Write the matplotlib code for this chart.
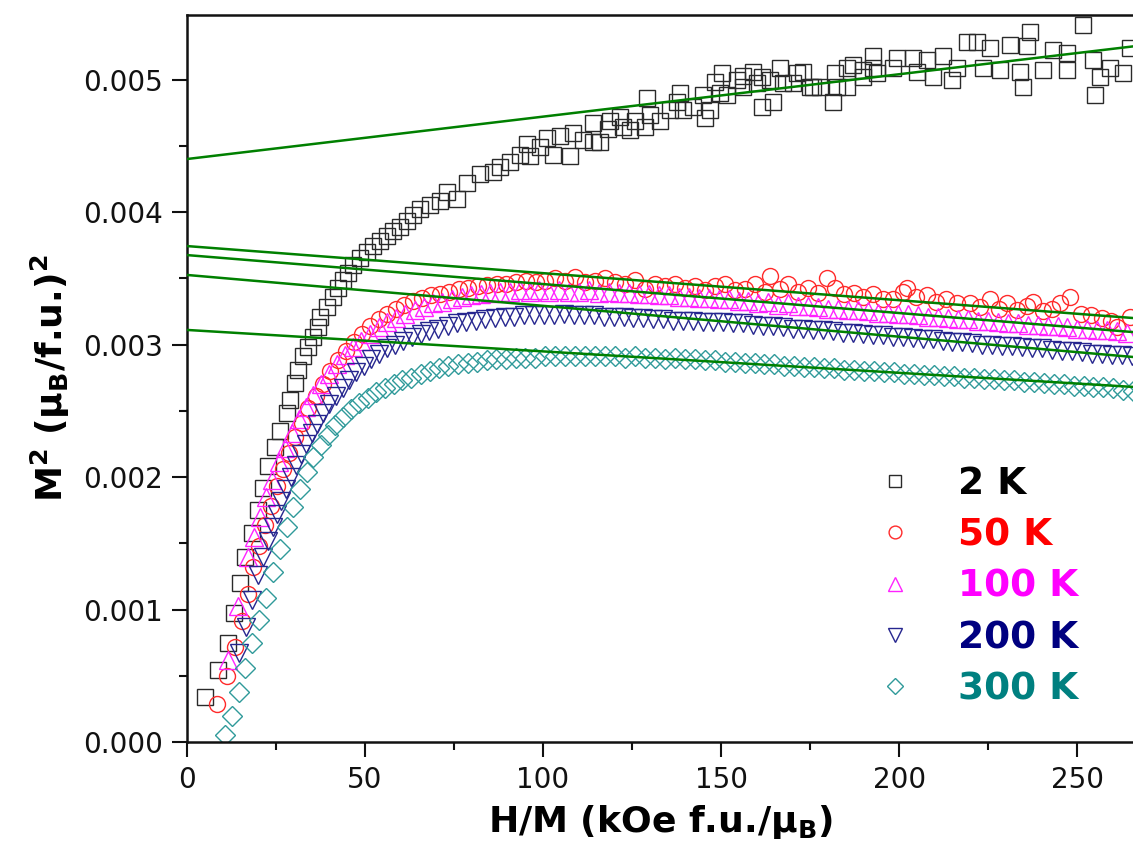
import matplotlib
matplotlib.use("Agg")
import matplotlib.pyplot as plt
from matplotlib.ticker import MultipleLocator, FormatStrFormatter

plt.rcParams['font.family'] = ['DejaVu Sans']
plt.rcParams['mathtext.fontset'] = 'dejavusans'

# ---------------- data (x: H/M in kOe f.u./muB, y: M^2 in 1e-3 (muB/f.u.)^2) ----------------
x_2K = [5.1, 8.7, 11.5, 13.2, 14.9, 16.3, 18.3, 19.9, 21.3, 22.8, 24.7, 26.1, 28.1, 28.9, 30.3, 31.2,
        32.6, 34.0, 35.4, 36.8, 37.4, 39.3, 41.0, 42.4, 43.8, 45.2, 46.6, 48.6, 50.6, 52.2, 54.2, 56.2,
        57.9, 59.8, 61.8, 63.5, 65.4, 68.3, 71.1, 73.0, 75.8, 78.7, 82.3, 86.0, 87.9, 90.7, 93.5, 95.5,
        96.3, 99.2, 101.1, 102.8, 104.8, 107.6, 108.4, 111.2, 114.0, 114.0, 116.0, 118.8, 118.3, 121.6,
        122.5, 124.4, 125.8, 128.7, 129.2, 130.1, 132.9, 135.7, 137.6, 138.5, 139.3, 142.1, 144.9, 145.5,
        146.9, 148.3, 149.7, 150.3, 151.7, 154.5, 156.2, 156.2, 159.0, 160.1, 161.5, 161.5, 163.8, 164.6,
        166.6, 167.4, 170.2, 171.3, 173.0, 175.0, 175.8, 177.8, 181.5, 182.0, 182.6, 185.4, 185.4, 187.1,
        189.9, 189.9, 192.7, 192.7, 193.8, 198.3, 199.4, 203.9, 205.1, 207.9, 209.6, 212.4, 214.9, 216.3,
        219.1, 221.9, 223.6, 225.6, 228.4, 231.2, 234.0, 234.8, 236.0, 236.8, 240.4, 243.3, 247.2, 247.2,
        251.7, 254.5, 255.1, 256.5, 259.3, 262.9, 264.9]
y_2K = [0.34, 0.54, 0.75, 0.97, 1.20, 1.40, 1.58, 1.75, 1.92, 2.08, 2.23, 2.35, 2.48, 2.58, 2.71, 2.81,
        2.91, 2.98, 3.06, 3.13, 3.21, 3.28, 3.36, 3.43, 3.49, 3.54, 3.60, 3.65, 3.70, 3.74, 3.78, 3.82,
        3.86, 3.89, 3.93, 3.98, 4.02, 4.05, 4.08, 4.15, 4.10, 4.22, 4.29, 4.30, 4.34, 4.38, 4.43, 4.51,
        4.42, 4.49, 4.56, 4.43, 4.57, 4.42, 4.60, 4.54, 4.67, 4.53, 4.53, 4.69, 4.63, 4.72,
        4.64, 4.62, 4.69, 4.64, 4.86, 4.73, 4.69, 4.77, 4.83, 4.90, 4.77, 4.79, 4.88, 4.71,
        4.77, 4.98, 4.90, 5.05, 4.88, 5.00, 4.94, 5.03, 5.06, 4.97, 4.79, 5.02, 5.00, 4.83,
        5.09, 4.97, 4.97, 5.05, 5.06, 4.94, 4.94, 4.94, 4.83, 5.05, 4.94, 5.09, 4.94, 5.11,
        5.07, 5.02, 5.18, 5.09, 5.05, 5.09, 5.16, 5.16, 5.06, 5.15, 5.02, 5.18, 5.00, 5.09,
        5.28, 5.28, 5.09, 5.24, 5.07, 5.26, 5.06, 4.94, 5.25, 5.36, 5.07, 5.22, 5.20, 5.07,
        5.41, 5.15, 4.88, 5.02, 5.09, 5.05, 5.24]

x_50K = [8.4, 11.2, 13.5, 15.4, 17.1, 18.5, 20.3, 21.9, 23.6, 25.2, 26.9, 28.6, 30.4, 32.2, 34.1, 36.1,
         38.1, 40.2, 42.4, 44.6, 46.8, 49.1, 51.4, 53.8, 56.2, 58.6, 61.0, 63.5, 66.0, 68.5, 71.1, 73.7,
         76.3, 78.9, 81.6, 84.3, 87.0, 89.7, 92.4, 95.1, 97.9, 100.6, 103.4, 106.2, 109.0, 111.8, 114.6,
         117.4, 120.2, 123.0, 125.8, 128.7, 131.5, 134.3, 137.1, 139.9, 142.7, 145.5, 148.3, 151.1, 153.9,
         156.7, 159.5, 162.3, 163.8, 166.5, 168.8, 171.5, 174.3, 177.1, 179.8, 182.0, 184.5, 187.2, 190.0,
         192.8, 195.5, 198.3, 201.0, 202.2, 204.8, 207.9, 210.5, 213.3, 216.3, 219.9, 222.6, 225.6, 228.2,
         230.3, 233.0, 236.0, 237.6, 240.5, 243.0, 245.2, 248.0, 251.0, 254.0, 257.0, 259.5, 261.2, 264.9]
y_50K = [0.29, 0.50, 0.72, 0.91, 1.12, 1.32, 1.48, 1.64, 1.78, 1.93, 2.06, 2.18, 2.30, 2.41, 2.52, 2.61,
         2.70, 2.80, 2.88, 2.95, 3.02, 3.08, 3.14, 3.19, 3.23, 3.27, 3.30, 3.33, 3.35, 3.37, 3.38, 3.40,
         3.42, 3.43, 3.44, 3.45, 3.46, 3.46, 3.47, 3.48, 3.47, 3.48, 3.50, 3.48, 3.51, 3.47, 3.48,
         3.50, 3.47, 3.46, 3.49, 3.42, 3.46, 3.44, 3.46, 3.43, 3.44, 3.41, 3.44, 3.46, 3.41,
         3.42, 3.46, 3.40, 3.52, 3.42, 3.46, 3.40, 3.43, 3.39, 3.50, 3.43, 3.38, 3.39, 3.36,
         3.38, 3.34, 3.34, 3.40, 3.43, 3.36, 3.37, 3.32, 3.34, 3.31, 3.31, 3.28, 3.34, 3.27,
         3.31, 3.26, 3.29, 3.32, 3.25, 3.27, 3.31, 3.36, 3.23, 3.22, 3.20, 3.18, 3.13, 3.21]

x_100K = [11.5, 14.3, 17.1, 18.8, 20.5, 22.2, 24.0, 25.8, 27.6, 29.5, 31.4, 33.4, 35.5, 37.6, 39.8, 42.0,
          44.3, 46.6, 49.0, 51.4, 53.8, 56.3, 58.8, 61.3, 63.9, 66.5, 69.1, 71.7, 74.4, 77.1, 79.8, 82.5,
          85.2, 87.9, 90.7, 93.4, 96.2, 99.0, 101.7, 104.5, 107.3, 110.1, 112.9, 115.7, 118.5, 121.3,
          124.1, 126.9, 129.7, 132.5, 135.3, 138.1, 140.9, 143.7, 146.5, 149.3, 152.1, 154.9, 157.7,
          160.5, 163.3, 166.1, 168.9, 171.7, 174.5, 177.3, 180.1, 182.9, 185.7, 188.5, 191.3, 194.1,
          196.9, 199.7, 202.5, 205.3, 208.1, 210.9, 213.7, 216.5, 219.3, 222.1, 224.9, 227.7, 230.5,
          233.3, 236.1, 238.9, 241.7, 244.5, 247.3, 250.1, 252.9, 255.7, 258.5, 261.3, 264.1]
y_100K = [0.62, 1.03, 1.40, 1.55, 1.70, 1.85, 1.98, 2.11, 2.22, 2.33, 2.44, 2.53, 2.62, 2.70, 2.78, 2.85,
          2.92, 2.98, 3.03, 3.08, 3.13, 3.17, 3.20, 3.23, 3.26, 3.28, 3.31, 3.32, 3.34, 3.36, 3.37, 3.38,
          3.39, 3.40, 3.40, 3.41, 3.40, 3.41, 3.40, 3.41, 3.40, 3.40, 3.41, 3.39, 3.40, 3.39,
          3.39, 3.38, 3.38, 3.37, 3.37, 3.36, 3.36, 3.35, 3.35, 3.34, 3.34, 3.33, 3.33,
          3.31, 3.32, 3.30, 3.31, 3.29, 3.29, 3.28, 3.27, 3.27, 3.26, 3.26, 3.25, 3.24,
          3.24, 3.23, 3.23, 3.22, 3.21, 3.21, 3.20, 3.19, 3.19, 3.18, 3.18, 3.17, 3.16,
          3.16, 3.15, 3.15, 3.14, 3.14, 3.13, 3.12, 3.12, 3.11, 3.11, 3.10, 3.09]

x_200K = [14.6, 16.5, 18.3, 19.9, 21.4, 22.8, 24.1, 25.3, 26.5, 27.8, 29.1, 30.5, 31.9, 33.4, 35.0, 36.6,
          38.3, 40.0, 41.8, 43.7, 45.6, 47.6, 49.7, 51.8, 54.0, 56.2, 58.5, 60.8, 63.2, 65.6, 68.1, 70.6,
          73.2, 75.8, 78.4, 81.1, 83.8, 86.5, 89.2, 91.9, 94.7, 97.4, 100.2, 103.0, 105.8, 108.6, 111.4,
          114.2, 117.0, 119.8, 122.6, 125.4, 128.2, 131.0, 133.8, 136.6, 139.4, 142.2, 145.0, 147.8,
          150.6, 153.4, 156.2, 159.0, 161.8, 164.6, 167.4, 170.2, 173.0, 175.8, 178.6, 181.4, 184.2,
          187.0, 189.8, 192.6, 195.4, 198.2, 201.0, 203.8, 206.6, 209.4, 212.2, 215.0, 217.8, 220.6,
          223.4, 226.2, 229.0, 231.8, 234.6, 237.4, 240.2, 243.0, 245.8, 248.6, 251.4, 254.2, 257.0,
          259.8, 262.6, 265.4]
y_200K = [0.67, 0.87, 1.07, 1.26, 1.40, 1.52, 1.62, 1.72, 1.82, 1.91, 2.00, 2.09, 2.17, 2.25, 2.33, 2.40,
          2.48, 2.55, 2.61, 2.67, 2.73, 2.79, 2.84, 2.89, 2.93, 2.97, 3.00, 3.03, 3.06, 3.08, 3.10, 3.12,
          3.14, 3.16, 3.17, 3.18, 3.19, 3.20, 3.21, 3.21, 3.22, 3.22, 3.22, 3.22, 3.23, 3.22, 3.22,
          3.22, 3.21, 3.21, 3.21, 3.20, 3.20, 3.19, 3.19, 3.18, 3.18, 3.18, 3.17, 3.17,
          3.17, 3.16, 3.16, 3.15, 3.14, 3.14, 3.13, 3.12, 3.12, 3.11, 3.11, 3.10, 3.09,
          3.09, 3.08, 3.07, 3.07, 3.06, 3.06, 3.05, 3.04, 3.04, 3.03, 3.02, 3.02, 3.01,
          3.00, 3.00, 2.99, 2.99, 2.98, 2.97, 2.97, 2.96, 2.95, 2.95, 2.94, 2.93, 2.93,
          2.92, 2.92, 2.91]

x_300K = [10.7, 12.6, 14.6, 16.4, 18.3, 20.2, 22.2, 24.2, 26.1, 28.0, 29.8, 31.7, 33.6, 35.5, 37.5, 39.6,
          41.7, 43.9, 46.1, 48.4, 50.7, 53.1, 55.5, 58.0, 60.5, 63.0, 65.6, 68.2, 70.8, 73.4, 76.1, 78.8,
          81.5, 84.2, 86.9, 89.6, 92.3, 95.0, 97.8, 100.6, 103.4, 106.2, 109.0, 111.8, 114.6, 117.4,
          120.2, 123.0, 125.8, 128.6, 131.4, 134.2, 137.0, 139.8, 142.6, 145.4, 148.2, 151.0, 153.8,
          156.6, 159.4, 162.2, 165.0, 167.8, 170.6, 173.4, 176.2, 179.0, 181.8, 184.6, 187.4, 190.2,
          193.0, 195.8, 198.6, 201.4, 204.2, 207.0, 209.8, 212.6, 215.4, 218.2, 221.0, 223.8, 226.6,
          229.4, 232.2, 235.0, 237.8, 240.6, 243.4, 246.2, 249.0, 251.8, 254.6, 257.4, 260.2, 263.0, 265.8]
y_300K = [0.05, 0.20, 0.38, 0.56, 0.75, 0.92, 1.09, 1.28, 1.46, 1.62, 1.77, 1.91, 2.04, 2.15, 2.24, 2.32,
          2.39, 2.45, 2.51, 2.56, 2.60, 2.64, 2.67, 2.70, 2.73, 2.75, 2.78, 2.80, 2.82, 2.84, 2.85, 2.86,
          2.87, 2.88, 2.89, 2.89, 2.90, 2.90, 2.90, 2.91, 2.91, 2.91, 2.91, 2.91, 2.91, 2.91,
          2.91, 2.90, 2.91, 2.90, 2.90, 2.89, 2.90, 2.89, 2.89, 2.88, 2.88, 2.87, 2.87,
          2.86, 2.86, 2.85, 2.85, 2.84, 2.84, 2.83, 2.83, 2.82, 2.82, 2.81, 2.81, 2.80,
          2.80, 2.79, 2.79, 2.78, 2.78, 2.77, 2.77, 2.76, 2.76, 2.75, 2.75, 2.74, 2.74,
          2.73, 2.73, 2.72, 2.72, 2.71, 2.70, 2.70, 2.69, 2.69, 2.68, 2.68, 2.67, 2.66, 2.65]

# linear fits: value at x = 0 and at x = 265.7
fit_x = [0.0, 265.7]
fit_2K = [4.40, 5.25]
fit_50K = [3.743, 3.20]
fit_100K = [3.675, 3.094]
fit_200K = [3.525, 2.906]
fit_300K = [3.11, 2.68]

labels = ['2 K', '50 K', '100 K', '200 K', '300 K']
text_colors = ['#000000', '#ff0000', '#ff00ff', '#000080', '#008080']
marker_colors = ['#2a2a2a', '#ff2a2a', '#ff22ff', '#26268f', '#2f9a9a']

# ---------------- figure ----------------
W, H = 1133, 852
fig = plt.figure(figsize=(W / 100, H / 100), dpi=100)
ax = fig.add_axes([187 / W, (H - 742) / H, (W - 187) / W, (742 - 15) / H])

scale = 1e-3
series = [(x_2K, y_2K, 's', 11.0), (x_50K, y_50K, 'o', 11.5), (x_100K, y_100K, '^', 12.5),
          (x_200K, y_200K, 'v', 12.5), (x_300K, y_300K, 'D', 10.0)]
handles = []
for (xs, ys, m, ms), c, lab in zip(series, marker_colors, labels):
    h, = ax.plot(xs, [v * scale for v in ys], linestyle='none', marker=m, ms=ms,
                 mfc='none', mec=c, mew=1.0, label=lab)
    handles.append(h)

for f in [fit_2K, fit_50K, fit_100K, fit_200K, fit_300K]:
    ax.plot(fit_x, [v * scale for v in f], color='#008000', lw=1.8, zorder=5)

ax.set_xlim(0, 265.7)
ax.set_ylim(0, 0.005487)

ax.xaxis.set_major_locator(MultipleLocator(50))
ax.xaxis.set_minor_locator(MultipleLocator(25))
ax.yaxis.set_major_locator(MultipleLocator(0.001))
ax.yaxis.set_minor_locator(MultipleLocator(0.0005))
ax.yaxis.set_major_formatter(FormatStrFormatter('%.3f'))

ax.tick_params(which='both', direction='out', top=False, right=False, width=1.5,
               labelsize=20, pad=7, colors='#111111')
ax.tick_params(which='major', length=10.5)
ax.tick_params(which='minor', length=5.5)

for s in ['left', 'bottom', 'top']:
    ax.spines[s].set_linewidth(1.8)
    ax.spines[s].set_color('#111111')
ax.spines['right'].set_visible(False)

ax.set_xlabel(r'H/M (kOe f.u./$\mathbf{\mu_B}$)', fontsize=26, fontweight='bold', labelpad=6)
ax.set_ylabel(r'M$^\mathbf{2}$ ($\mathbf{\mu_B}$/f.u.)$^\mathbf{2}$', fontsize=26, fontweight='bold',
              labelpad=8)

leg = ax.legend(handles=handles, loc='upper left', bbox_to_anchor=(876 / W, 1 - 466 / H),
                bbox_transform=fig.transFigure, frameon=False, borderpad=0, borderaxespad=0,
                handlelength=1.0, handletextpad=1.2, labelspacing=0.41, markerscale=0.8,
                prop={'size': 27, 'weight': 'bold'}, labelcolor=text_colors, numpoints=1)

fig.savefig('out.png', dpi=100, facecolor='white')
